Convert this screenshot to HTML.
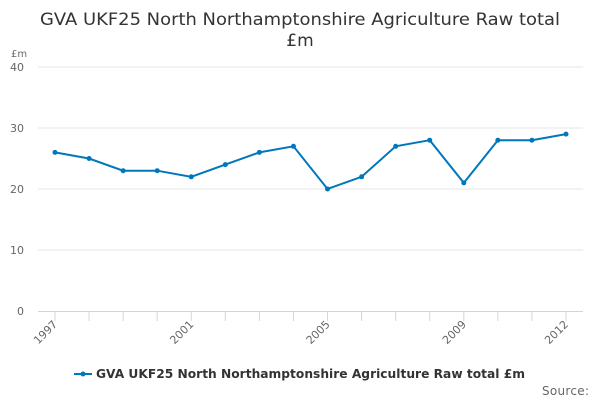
<!DOCTYPE html>
<html><head><meta charset="utf-8"><style>
body{margin:0;width:600px;height:400px;background:#fff;font-family:"DejaVu Sans",sans-serif;overflow:hidden}
</style></head><body>
<svg id="chart" width="600" height="400" xmlns="http://www.w3.org/2000/svg" font-family="DejaVu Sans, sans-serif">
<text x="300" y="25" text-anchor="middle" font-size="17" fill="#333" textLength="520" lengthAdjust="spacingAndGlyphs">GVA UKF25 North Northamptonshire Agriculture Raw total</text>
<text x="300" y="46" text-anchor="middle" font-size="17" fill="#333">£m</text>
<text x="11" y="57" font-size="10" fill="#666">£m</text>
<g id="grid"></g><g id="xaxis"></g><g id="series"></g>
<g>
<line x1="74" y1="374" x2="92" y2="374" stroke="#0077bb" stroke-width="2"/>
<circle cx="83" cy="374" r="2.5" fill="#0077bb"/>
<text x="96" y="378" font-size="12" font-weight="bold" fill="#333" textLength="429" lengthAdjust="spacingAndGlyphs">GVA UKF25 North Northamptonshire Agriculture Raw total £m</text>
</g>
<text x="542" y="395" font-size="12" fill="#666" textLength="47">Source:</text>
</svg>
<script>
const years=[1997,1998,1999,2000,2001,2002,2003,2004,2005,2006,2007,2008,2009,2010,2011,2012];
const values=[26,25,23,23,22,24,26,27,20,22,27,28,21,28,28,29];
const yTicks=[0,10,20,30,40];
const xLabels=[1997,2001,2005,2009,2012];
const NS="http://www.w3.org/2000/svg";
const x=v=>55+(v-1997)*(566-55)/15;
const y=v=>311-v*(311-67)/40;
function mk(t,a,p){const e=document.createElementNS(NS,t);for(const k in a)e.setAttribute(k,a[k]);p.appendChild(e);return e;}
const g=document.getElementById('grid'),xa=document.getElementById('xaxis'),s=document.getElementById('series');
yTicks.forEach(v=>{
 if(v>0){const l=mk('line',{x1:38,x2:583,y1:y(v),y2:y(v),stroke:'#e6e6e6'},g);
 
 }
 const t=mk('text',{x:24,y:y(v)+4,'text-anchor':'end','font-size':11,fill:'#666'},g);t.textContent=v;
 
 
});
const ax=mk('line',{x1:38,x2:583,y1:311.5,y2:311.5,stroke:'#ccd6eb'},xa);


years.forEach(yr=>{
 const tk=mk('line',{x1:x(yr),x2:x(yr),y1:311,y2:321,stroke:'#ccd6eb'},xa);
 
 
});
xLabels.forEach(yr=>{
 const t=mk('text',{x:x(yr)+3,y:325,'text-anchor':'end','font-size':11,fill:'#666',transform:`rotate(-45 ${x(yr)+3} 325)`},xa);
 t.textContent=yr;
 
 
});
const p=mk('polyline',{points:years.map((yr,i)=>x(yr)+','+y(values[i])).join(' '),fill:'none',stroke:'#0077bb','stroke-width':2},s);


years.forEach((yr,i)=>{
 const c=mk('circle',{cx:x(yr),cy:y(values[i]),r:2.5,fill:'#0077bb'},s);
 
 
});
</script>
</body></html>
